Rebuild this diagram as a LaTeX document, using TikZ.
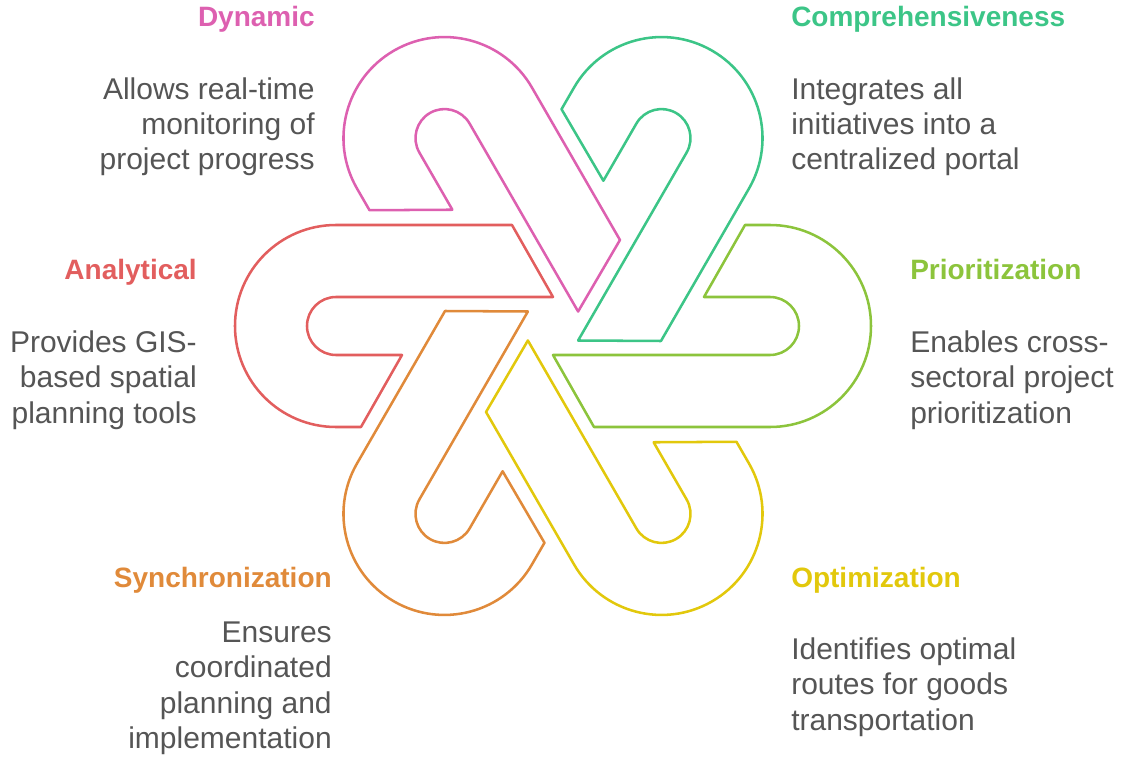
\documentclass[tikz,border=0pt]{standalone}
\usepackage{fontspec}
\setmainfont{Liberation Sans}
\definecolor{cred}{RGB}{226,94,94}
\definecolor{cpink}{RGB}{221,96,176}
\definecolor{cgreen}{RGB}{60,197,135}
\definecolor{clime}{RGB}{140,196,60}
\definecolor{cyellow}{RGB}{226,200,12}
\definecolor{corange}{RGB}{224,138,58}
\definecolor{bodygray}{RGB}{85,85,85}
\begin{document}
\begin{tikzpicture}[x=0.75pt,y=0.75pt,
  hook/.style={line width=1.9pt, line join=round},
  ttl/.style={inner sep=0pt, font=\fontsize{21}{25}\selectfont\bfseries},
  bdy/.style={inner sep=0pt, text=bodygray, font=\fontsize{22.5}{26.6}\selectfont},
  lft/.style={anchor=base west, align=left},
  rgt/.style={anchor=base east, align=right}]
\useasboundingbox (-553,326) rectangle (571,-434);
\foreach \r/\c in {0/cred, -60/cpink, -120/cgreen, 180/clime, 120/cyellow, 60/corange} {
  \begin{scope}[rotate=\r]
  \draw[hook, draw=\c] (-217,101) -- (-41,101) -- (0,29) -- (-217,29)
    arc[start angle=90, end angle=270, radius=29] -- (-151,-29) -- (-192,-101) -- (-217,-101)
    arc[start angle=270, end angle=90, radius=101] -- cycle;
  \end{scope}
}
% body nodes: base anchor is the baseline of the last line
\begin{scope}[shift={(-553,326)}, yscale=-1]
  \node[ttl, rgt, text=cpink] (t1) at (315,27) {Dynamic};
  \node[bdy, rgt] (b1) at (315,170) {Allows real-time\\monitoring of\\project progress};
  \node[ttl, lft, text=cgreen] (t2) at (791,27) {Comprehensiveness};
  \node[bdy, lft] (b2) at (791,170) {Integrates all\\initiatives into a\\centralized portal};
  \node[ttl, rgt, text=cred] (t3) at (197,280) {Analytical};
  \node[bdy, rgt] (b3) at (197,423) {Provides GIS-\\based spatial\\planning tools};
  \node[ttl, lft, text=clime] (t4) at (910,280) {Prioritization};
  \node[bdy, lft] (b4) at (910,423) {Enables cross-\\sectoral project\\prioritization};
  \node[ttl, rgt, text=corange] (t5) at (332,587) {Synchronization};
  \node[bdy, rgt] (b5) at (332,748.5) {Ensures\\coordinated\\planning and\\implementation};
  \node[ttl, lft, text=cyellow] (t6) at (791,587) {Optimization};
  \node[bdy, lft] (b6) at (791,730) {Identifies optimal\\routes for goods\\transportation};
\end{scope}
\end{tikzpicture}
\end{document}
